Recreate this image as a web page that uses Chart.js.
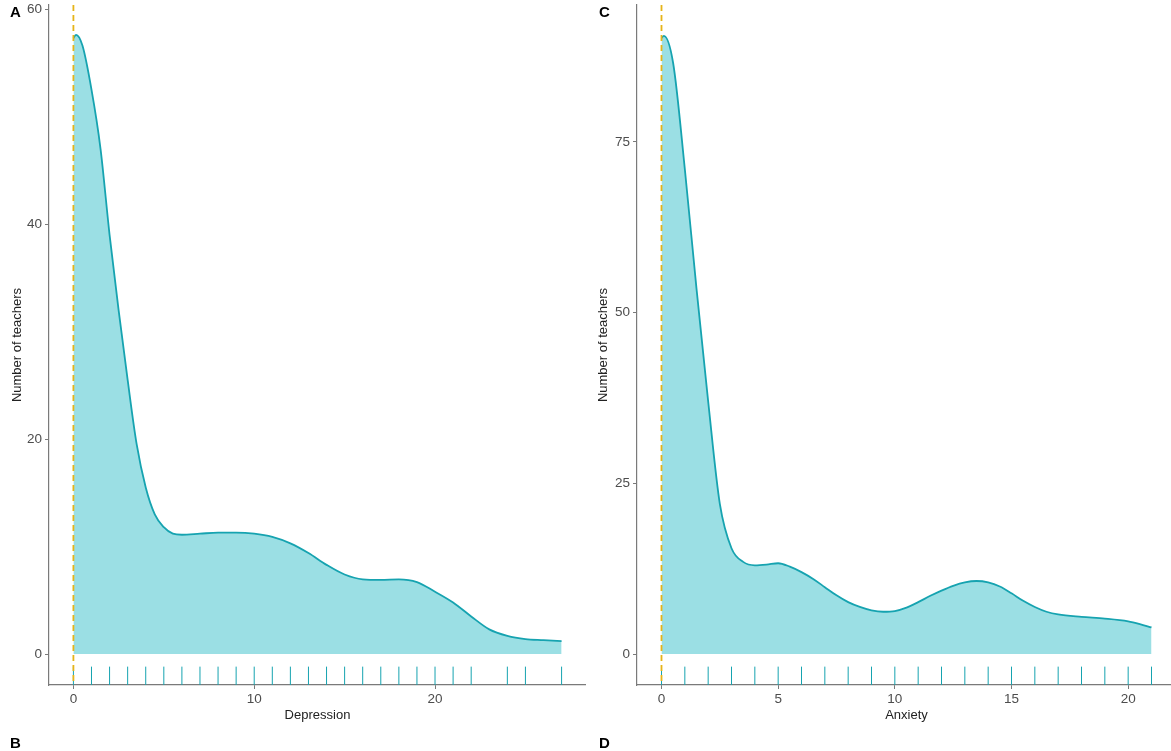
<!DOCTYPE html>
<html>
<head>
<meta charset="utf-8">
<script src="https://cdn.jsdelivr.net/npm/chart.js@4.4.1/dist/chart.umd.min.js"></script>
<style>
  html, body { margin:0; padding:0; background:#fff; overflow:hidden; }
  body { width:1171px; height:751px; position:relative; font-family:'Liberation Sans', Arial, sans-serif; }
  .pane { position:absolute; top:0; height:751px; }
  .tag { position:absolute; font-weight:bold; font-size:15px; color:#000; line-height:1; }
</style>
</head>
<body>
<div class="pane" style="left:0;width:586px"><canvas id="cDep" width="586" height="751"></canvas></div>
<div class="pane" style="left:586px;width:590px"><canvas id="cAnx" width="590" height="751"></canvas></div>
<div class="tag" style="left:10px;top:4px">A</div>
<div class="tag" style="left:10px;top:735px">B</div>
<div class="tag" style="left:599px;top:4px">C</div>
<div class="tag" style="left:599px;top:735px">D</div>
<script>
// density curve, Depression
const depX = [0, 0.15, 0.5, 1, 1.5, 2, 2.5, 3, 3.5, 4, 4.5, 5, 5.5, 6, 7, 8, 9, 10, 11, 12, 13, 14, 15, 16, 17, 18, 19, 20, 21, 22, 23, 24, 25, 26, 27];
const depY = [57.3, 57.6, 56.6, 52.5, 47.0, 39.0, 32.0, 25.5, 19.5, 15.5, 13.0, 11.8, 11.2, 11.1, 11.2, 11.3, 11.3, 11.2, 10.9, 10.3, 9.4, 8.3, 7.4, 6.95, 6.9, 6.95, 6.7, 5.8, 4.8, 3.5, 2.3, 1.7, 1.4, 1.3, 1.2];
const depRug = [0, 1, 2, 3, 4, 5, 6, 7, 8, 9, 10, 11, 12, 13, 14, 15, 16, 17, 18, 19, 20, 21, 22, 24, 25, 27];
const depXTicks = [0, 10, 20];
const depYTicks = [0, 20, 40, 60];

// density curve, Anxiety
const anxX = [0, 0.1, 0.5, 1, 1.5, 2, 2.5, 3, 3.5, 4, 4.5, 5, 5.5, 6, 6.5, 7, 7.5, 8, 8.5, 9, 9.5, 10, 10.5, 11, 11.5, 12, 12.5, 13, 13.5, 14, 14.5, 15, 15.5, 16, 16.5, 17, 18, 19, 20, 20.5, 21];
const anxY = [90.2, 90.5, 86.5, 71.0, 53.5, 37.0, 22.0, 15.5, 13.5, 13.0, 13.1, 13.3, 12.8, 12.0, 11.0, 9.8, 8.6, 7.6, 6.9, 6.4, 6.2, 6.3, 6.8, 7.6, 8.5, 9.3, 10.0, 10.5, 10.7, 10.5, 9.9, 8.9, 7.8, 6.9, 6.2, 5.8, 5.45, 5.2, 4.8, 4.4, 3.9];
const anxRug = [0, 1, 2, 3, 4, 5, 6, 7, 8, 9, 10, 11, 12, 13, 14, 15, 16, 17, 18, 19, 20, 21];
const anxXTicks = [0, 5, 10, 15, 20];
const anxYTicks = [0, 25, 50, 75];

const LINE = '#16a3b0', FILL = '#9bdfe4', VLINE = '#e6b418', AXIS = '#7a7a7a', TXT = '#4d4d4d';
const FONT = "'Liberation Sans', Arial, sans-serif";

const marks = {
  id: 'marks',
  afterDatasetsDraw(chart, args, opts) {
    const { ctx, chartArea: a, scales: { x } } = chart;
    ctx.save();
    ctx.beginPath(); ctx.rect(a.left, a.top, a.right - a.left, a.bottom - a.top); ctx.clip();
    let rugH = (a.bottom - a.top) * 0.027;
    ctx.strokeStyle = LINE; ctx.lineWidth = 1;
    opts.rug.forEach(v => {
      let px = x.getPixelForValue(v);
      ctx.beginPath(); ctx.moveTo(px, a.bottom); ctx.lineTo(px, a.bottom - rugH); ctx.stroke();
    });
    let vx = x.getPixelForValue(0);
    ctx.strokeStyle = VLINE; ctx.lineWidth = 1.8; ctx.setLineDash([6, 4]);
    ctx.beginPath(); ctx.moveTo(vx, a.top); ctx.lineTo(vx, a.bottom); ctx.stroke();
    ctx.restore();
  }
};

function makeChart(id, xs, ys, rug, xTicks, yTicks, xMin, xMax, yMin, yMax, xTitle, yW) {
  const pts = xs.map((v, i) => ({ x: v, y: ys[i] }));
  return new Chart(document.getElementById(id), {
    type: 'line',
    data: { datasets: [{ data: pts, borderColor: LINE, backgroundColor: FILL, borderWidth: 1.8, fill: 'origin', pointRadius: 0, cubicInterpolationMode: 'monotone' }] },
    options: {
      responsive: false, animation: false,
      layout: { padding: { top: 5, right: 0, bottom: 0, left: 0 } },
      plugins: { legend: { display: false }, tooltip: { enabled: false }, marks: { rug: rug } },
      scales: {
        x: {
          type: 'linear', min: xMin, max: xMax,
          afterBuildTicks: s => { s.ticks = xTicks.map(v => ({ value: v })); },
          afterFit: s => { s.height = 66; s.paddingLeft = 0; s.paddingRight = 0; },
          grid: { drawOnChartArea: false, drawTicks: true, tickLength: 4, color: AXIS, lineWidth: 1 },
          border: { display: true, color: AXIS, width: 1.2 },
          ticks: { color: TXT, font: { family: FONT, size: 13.5 }, padding: 2, maxRotation: 0 },
          title: { display: true, text: xTitle, color: '#222', font: { family: FONT, size: 13 }, padding: { top: 4, bottom: 28 } }
        },
        y: {
          type: 'linear', min: yMin, max: yMax,
          afterBuildTicks: s => { s.ticks = yTicks.map(v => ({ value: v })); },
          afterFit: s => { s.width = yW; s.paddingTop = 0; s.paddingBottom = 0; },
          grid: { drawOnChartArea: false, drawTicks: true, tickLength: 4, color: AXIS, lineWidth: 1 },
          border: { display: true, color: AXIS, width: 1.2 },
          ticks: { color: TXT, font: { family: FONT, size: 13.5 }, padding: 3 },
          title: { display: true, text: 'Number of teachers', color: '#222', font: { family: FONT, size: 13 }, padding: { top: 10, bottom: 4 } }
        }
      }
    },
    plugins: [marks]
  });
}

makeChart('cDep', depX, depY, depRug, depXTicks, depYTicks, -1.35, 28.35, -2.875, 60.375, 'Depression', 49);
makeChart('cAnx', anxX, anxY, anxRug, anxXTicks, anxYTicks, -1.05, 22.05, -4.525, 95.025, 'Anxiety', 51);
</script>
</body>
</html>
